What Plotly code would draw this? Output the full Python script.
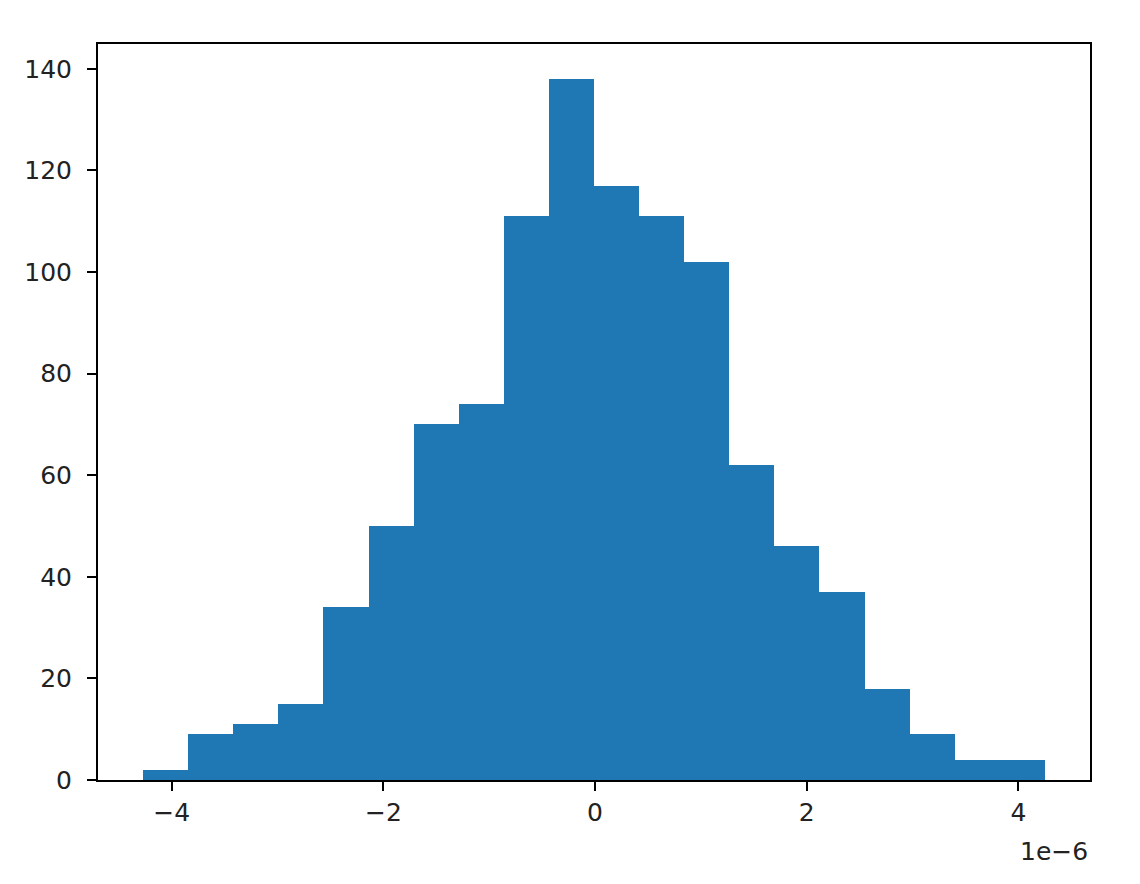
import plotly.graph_objects as go

counts = [2, 9, 11, 15, 34, 50, 70, 74, 111, 138, 117, 111, 102, 62, 46, 37, 18, 9, 4, 4]
bin_start = -4.27e-6
bin_end = 4.25e-6
x_tick_vals = [-4e-6, -2e-6, 0, 2e-6, 4e-6]
x_tick_text = ["\u22124", "\u22122", "0", "2", "4"]
y_tick_vals = [0, 20, 40, 60, 80, 100, 120, 140]

n = len(counts)
w = (bin_end - bin_start) / n
centers = [bin_start + w * (i + 0.5) for i in range(n)]

fig = go.Figure()
fig.add_trace(go.Bar(x=centers, y=counts, width=[w] * n,
                     marker=dict(color="#1f77b4", line=dict(width=0))))

span = bin_end - bin_start
fig.update_layout(
    width=1140, height=884,
    margin=dict(l=90, r=58, t=36, b=112),
    paper_bgcolor="white", plot_bgcolor="white",
    font=dict(family="DejaVu Sans", size=25, color="#222"),
    showlegend=False, bargap=0,
)
fig.update_xaxes(range=[bin_start - 0.05 * span, bin_end + 0.05 * span],
                 tickvals=x_tick_vals, ticktext=x_tick_text,
                 showgrid=False, zeroline=False,
                 showline=True, linecolor="black", linewidth=2, mirror=True,
                 ticks="outside", ticklen=9, tickwidth=2, tickcolor="black",
                 ticklabelstandoff=0)
fig.update_yaxes(range=[0, 138 * 1.05], tickvals=y_tick_vals,
                 showgrid=False, zeroline=False,
                 showline=True, linecolor="black", linewidth=2, mirror=True,
                 ticks="outside", ticklen=9, tickwidth=2, tickcolor="black",
                 ticklabelstandoff=10)
fig.add_annotation(text="1e\u22126", xref="paper", yref="paper", x=1, y=0,
                   xanchor="right", yanchor="top", yshift=-55, showarrow=False,
                   font=dict(family="DejaVu Sans", size=25, color="#222"))
fig.write_html("out.html")
